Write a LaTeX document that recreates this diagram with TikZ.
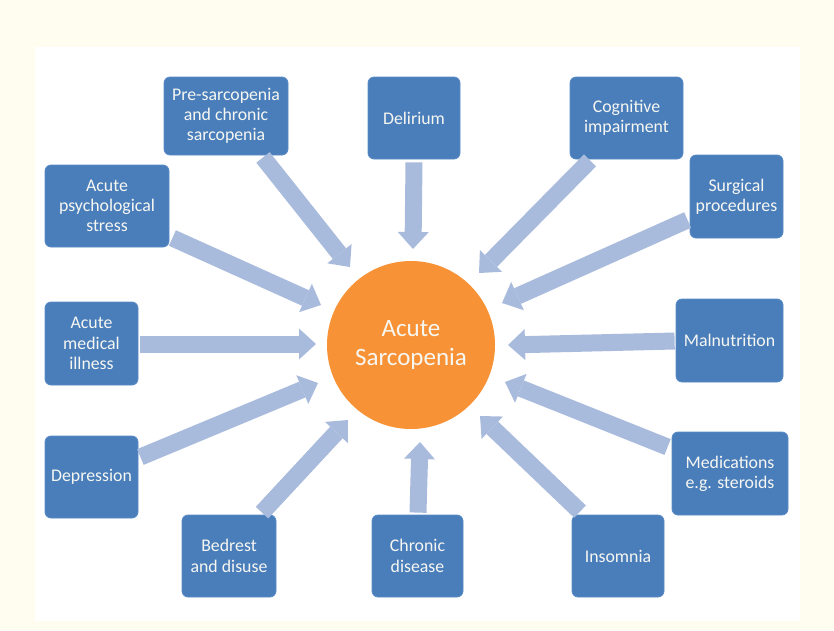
\documentclass[tikz,border=0pt]{standalone}
\usepackage{fontspec}
\setmainfont{Carlito}
\usetikzlibrary{arrows.meta,calc}
\definecolor{bgcream}{HTML}{FFFDF0}
\definecolor{boxblue}{HTML}{4A7EBB}
\definecolor{boxedge}{HTML}{5A8BC6}
\definecolor{arrowblue}{HTML}{A9BBDC}
\definecolor{sunorange}{HTML}{F79236}
\definecolor{txtwhite}{HTML}{F7F7F2}
\begin{document}
\begin{tikzpicture}[x=1pt,y=-1pt,
  factor/.style={draw=boxedge,line width=0.8pt,fill=boxblue,rounded corners=6pt,
    text=txtwhite,align=center,inner sep=0pt,
    font=\fontsize{17.8}{20.3}\selectfont},
  hub/.style={circle,fill=sunorange,minimum size=168pt,inner sep=0pt,
    text=txtwhite,align=center,font=\fontsize{25}{29}\selectfont},
  fat/.style={draw=arrowblue,line width=17pt,
    -{Triangle[length=17pt,width=31pt,line width=0pt]}}]
\useasboundingbox (0,0) rectangle (834,630);
\fill[bgcream] (0,0) rectangle (834,630);
\fill[white] (35,47) rectangle (800,621);

\node[hub] (c) at (411,345) {Acute\\Sarcopenia};

\node[factor,minimum width=124pt,minimum height=78pt] (pre) at (226,116) {Pre-sarcopenia\\and chronic\\sarcopenia};
\node[factor,minimum width=92pt,minimum height=82pt] (del) at (414,118) {Delirium};
\node[factor,minimum width=113pt,minimum height=82pt] (cog) at (626.5,118) {Cognitive\\impairment};
\node[factor,minimum width=93pt,minimum height=83pt] (sur) at (736.5,196.5) {Surgical\\procedures};
\node[factor,minimum width=107pt,minimum height=83pt] (mal) at (729.5,340.5) {Malnutrition};
\node[factor,minimum width=116pt,minimum height=83pt] (med) at (730,473.5) {Medications\\e.g. steroids};
\node[factor,minimum width=92pt,minimum height=82pt] (ins) at (618,556) {Insomnia};
\node[factor,minimum width=91pt,minimum height=82pt] (chr) at (417.5,556) {Chronic\\disease};
\node[factor,minimum width=94pt,minimum height=82pt] (bed) at (229,556) {Bedrest\\and disuse};
\node[factor,minimum width=93pt,minimum height=82pt] (dep) at (91.5,477) {Depression};
\node[factor,minimum width=93pt,minimum height=83pt] (acm) at (91.5,343.5) {Acute\\medical\\illness};
\node[factor,minimum width=124pt,minimum height=82pt] (psy) at (107,206) {Acute\\psychological\\stress};

\draw[fat] ($(pre.south)+(37,2)$) -- ($(c)+(-61,-78)$);
\draw[fat] ($(del.south)+(0,3)$) -- ($(c)+(2,-96)$);
\draw[fat] ($(cog.south)+(-36.5,1)$) -- ($(c)+(68,-72)$);
\draw[fat] ($(sur.west)+(-2,23.5)$) -- ($(c)+(91,-42)$);
\draw[fat] ($(mal.west)+(-1,0.5)$) -- ($(c)+(97,0)$);
\draw[fat] ($(med.west)+(-4,-26.5)$) -- ($(c)+(94,37)$);
\draw[fat] ($(ins.north)+(-38,-3)$) -- ($(c)+(69,71)$);
\draw[fat] ($(chr.north)+(0.5,-2)$) -- ($(c)+(9,97)$);
\draw[fat] ($(bed.north)+(33,-2)$) -- ($(c)+(-63,75)$);
\draw[fat] ($(dep.east)+(2,-20)$) -- ($(c)+(-93,38)$);
\draw[fat] ($(acm.east)+(2,0.5)$) -- ($(c)+(-95,-1)$);
\draw[fat] ($(psy.east)+(3,32)$) -- ($(c)+(-90,-40)$);
\end{tikzpicture}
\end{document}
